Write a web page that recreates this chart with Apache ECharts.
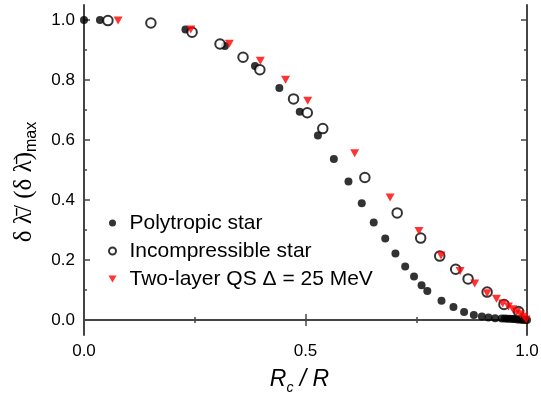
<!DOCTYPE html>
<html>
<head>
<meta charset="utf-8">
<script src="https://cdn.jsdelivr.net/npm/echarts@6/dist/echarts.min.js"></script>
<style>
html, body { margin: 0; padding: 0; background: #fff; }
#chart { width: 541px; height: 396px; }
</style>
</head>
<body>
<div id="chart"></div>
<script>
// values
const polyX = [0, 0.036, 0.229, 0.318, 0.386, 0.441, 0.487, 0.528, 0.564, 0.597, 0.627, 0.654, 0.680, 0.703, 0.725, 0.745, 0.762, 0.775, 0.807, 0.834, 0.858, 0.880, 0.898, 0.913, 0.928, 0.943, 0.950, 0.956, 0.962, 0.968, 0.973, 0.979, 0.984, 0.989, 0.993, 0.996, 1.0];
const polyY = [1.0, 1.0, 0.968, 0.913, 0.847, 0.773, 0.694, 0.615, 0.537, 0.462, 0.389, 0.325, 0.272, 0.222, 0.178, 0.145, 0.116, 0.097, 0.064, 0.043, 0.027, 0.017, 0.012, 0.008, 0.006, 0.005, 0.005, 0.004, 0.004, 0.003, 0.003, 0.002, 0.002, 0.001, 0.001, 0.0005, 0];

const incX = [0.054, 0.151, 0.244, 0.307, 0.359, 0.397, 0.473, 0.504, 0.539, 0.634, 0.707, 0.760, 0.803, 0.839, 0.867, 0.910, 0.948, 0.981];
const incY = [0.998, 0.990, 0.959, 0.920, 0.876, 0.834, 0.737, 0.691, 0.638, 0.475, 0.357, 0.273, 0.213, 0.169, 0.137, 0.093, 0.052, 0.028];

const twoX = [0.077, 0.241, 0.328, 0.398, 0.455, 0.505, 0.611, 0.691, 0.756, 0.806, 0.849, 0.882, 0.910, 0.931, 0.945, 0.958, 0.968, 0.977, 0.985, 0.993, 0.998];
const twoY = [0.998, 0.968, 0.921, 0.864, 0.801, 0.731, 0.556, 0.408, 0.297, 0.215, 0.163, 0.122, 0.089, 0.071, 0.055, 0.045, 0.036, 0.027, 0.019, 0.011, 0.002];

const seriesNames = ['Polytropic star', 'Incompressible star', 'Two-layer QS \u0394 = 25 MeV'];

const yMajorTicks = [0, 0.2, 0.4, 0.6, 0.8, 1.0];
const yMinorTicks = [0.1, 0.3, 0.5, 0.7, 0.9];

const axisColor = '#454545';
const sans = '"Liberation Sans", Arial, sans-serif';
const serif = '"Liberation Serif", "DejaVu Serif", serif';
const triDown = 'path://M0,0L2,0L1,1.732Z';

function pairs(xs, ys) {
    return xs.map((x, i) => [x, ys[i]]);
}

function yAxisDef(position, ticks, len, main) {
    return {
        type: 'value',
        position: position,
        min: -0.05,
        max: 1.05,
        axisLine: { show: main, lineStyle: { color: axisColor, width: 2 } },
        axisTick: { show: true, inside: true, length: len, customValues: ticks,
            lineStyle: { color: axisColor, width: 1.5 } },
        axisLabel: { show: main && position === 'left', customValues: ticks,
            formatter: v => v.toFixed(1), color: '#000', fontSize: 17, fontFamily: sans, margin: 9 },
        splitLine: { show: false },
    };
}

function xAxisDef(position, labels) {
    return {
        type: 'value',
        position: position,
        min: 0,
        max: 1,
        interval: 0.5,
        axisLine: { lineStyle: { color: axisColor, width: 2 } },
        axisTick: { inside: true, length: 6, lineStyle: { color: axisColor, width: 1.5 } },
        minorTick: { show: true, splitNumber: 2, length: 3, lineStyle: { color: axisColor, width: 1.5 } },
        axisLabel: { show: labels, formatter: v => v.toFixed(1), color: '#000', fontSize: 17, fontFamily: sans, margin: 8 },
        splitLine: { show: false },
    };
}

const chart = echarts.init(document.getElementById('chart'));

const xMain = xAxisDef('bottom', true);
xMain.name = '{i|R}{s|c}{i| / R}';
xMain.nameLocation = 'middle';
xMain.nameGap = 30;
xMain.nameMoveOverlap = false;
xMain.nameTextStyle = {
    padding: [0, 12, 0, 0],
    rich: {
        i: { fontSize: 23, fontStyle: 'italic', fontFamily: sans, color: '#000', lineHeight: 30 },
        s: { fontSize: 14, fontStyle: 'italic', fontFamily: sans, color: '#000', lineHeight: 30, verticalAlign: 'bottom' },
    },
};

const yMain = yAxisDef('left', yMajorTicks, 6, true);
yMain.name = '{g|\u03b4 \u03bb\u0304/ (\u03b4 \u03bb\u0304)}{s|max}';
yMain.nameLocation = 'middle';
yMain.nameRotate = 90;
yMain.nameGap = 44;
yMain.nameMoveOverlap = false;
yMain.nameTextStyle = {
    padding: [0, 24, 0, 0],
    rich: {
        g: { fontSize: 25, fontFamily: serif, color: '#000', lineHeight: 32 },
        s: { fontSize: 16, fontFamily: sans, color: '#000', lineHeight: 32, verticalAlign: 'bottom' },
    },
};

chart.setOption({
    backgroundColor: '#fff',
    animation: false,
    grid: { left: 84, right: 14, top: 5, bottom: 61, outerBoundsMode: 'none' },
    legend: {
        orient: 'vertical',
        left: 103,
        top: 207,
        itemWidth: 12,
        itemHeight: 7,
        itemGap: 6,
        data: seriesNames,
        textStyle: { fontSize: 21, fontFamily: sans, color: '#000', lineHeight: 22, padding: [0, 0, 0, 6] },
    },
    xAxis: [xMain, xAxisDef('top', false)],
    yAxis: [
        yMain,
        yAxisDef('left', yMinorTicks, 3, false),
        yAxisDef('right', yMajorTicks, 6, true),
        yAxisDef('right', yMinorTicks, 3, false),
    ],
    series: [
        {
            name: seriesNames[0],
            type: 'scatter',
            symbol: 'circle',
            symbolSize: 8,
            itemStyle: { color: '#000' },
            data: pairs(polyX, polyY),
        },
        {
            name: seriesNames[1],
            type: 'scatter',
            symbol: 'emptyCircle',
            symbolSize: 9.5,
            itemStyle: { color: '#000', borderWidth: 1 },
            data: pairs(incX, incY),
        },
        {
            name: seriesNames[2],
            type: 'scatter',
            symbol: triDown,
            symbolSize: [9, 8],
            itemStyle: { color: '#ff0000' },
            data: pairs(twoX, twoY),
        },
    ],
});
</script>
</body>
</html>
